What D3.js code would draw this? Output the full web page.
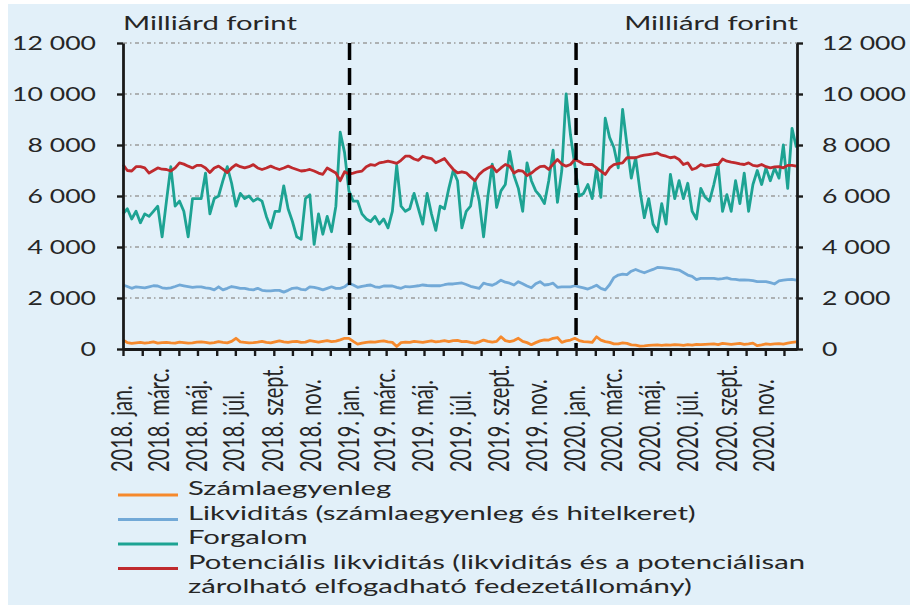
<!DOCTYPE html>
<html>
<head>
<meta charset="utf-8">
<script src="https://cdn.jsdelivr.net/npm/d3@7"></script>
<style>
  html, body { margin: 0; padding: 0; background: #fff; }
  svg text { font-family: Lato, "Noto Sans", sans-serif; fill: #262626; }
</style>
</head>
<body>
<div id="chart"></div>
<script>
// weekly readings, first point 2018-01-01
const startDate = new Date(2018, 0, 1);

const szamlaegyenleg = [
  360, 250, 220, 240, 260, 230, 250, 280, 230, 250, 260, 240, 230, 270, 250, 230, 240, 270, 280, 260,
  230, 250, 290, 260, 240, 300, 420, 280, 260, 240, 250, 270, 300, 260, 240, 280, 320, 280, 260, 290,
  300, 260, 270, 330, 300, 270, 300, 330, 290, 310, 360, 420,
  420, 300, 190, 230, 260, 280, 270, 300, 320, 280, 260, 100, 250, 270, 260, 300, 280, 260, 290, 320,
  280, 300, 330, 290, 330, 340, 290, 300, 260, 230, 280, 350, 300, 270, 300, 480, 330, 290, 330, 420,
  300, 250, 170, 250, 320, 360, 350, 420, 450, 260, 320, 350,
  420, 330, 290, 280, 260, 480, 350, 290, 260, 200, 200, 240, 220, 160, 150, 110, 120, 140, 150, 160,
  140, 160, 150, 170, 160, 140, 170, 150, 180, 170, 180, 190, 200, 170, 220, 200, 180, 200, 220, 180,
  200, 230, 130, 160, 200, 180, 200, 210, 190, 230, 260, 280
];

const likviditas = [
  2510, 2450, 2380, 2440, 2420, 2400, 2440, 2480, 2470, 2400, 2380, 2400, 2450, 2510, 2480, 2450, 2420, 2440, 2440, 2400,
  2380, 2320, 2440, 2320, 2380, 2450, 2420, 2380, 2380, 2340, 2320, 2380, 2300, 2280, 2280, 2300, 2300, 2230, 2300, 2380,
  2400, 2340, 2320, 2440, 2420, 2380, 2320, 2380, 2440, 2380, 2380, 2440,
  2575, 2510, 2420, 2460, 2490, 2510, 2440, 2420, 2470, 2470, 2470, 2420, 2380, 2450, 2440, 2460, 2480, 2510, 2490, 2480,
  2480, 2480, 2520, 2550, 2550, 2575, 2590, 2530, 2460, 2420, 2380, 2580, 2530, 2500, 2580, 2700, 2620, 2580, 2510, 2640,
  2560, 2470, 2400, 2560, 2640, 2510, 2530, 2580, 2420, 2440, 2440, 2440,
  2480, 2440, 2400, 2350, 2420, 2500, 2380, 2320, 2520, 2800, 2900, 2940, 2920, 3050, 3120, 3050, 2990, 3060, 3120, 3200,
  3190, 3170, 3150, 3120, 3095, 3000, 2900, 2850, 2720, 2770, 2770, 2770, 2770, 2740, 2760, 2790, 2740, 2730, 2705, 2705,
  2700, 2680, 2640, 2640, 2640, 2600, 2550, 2670, 2700, 2720, 2730, 2705
];

const forgalom = [
  5300, 5500, 5100, 5400, 4950, 5300, 5200, 5400, 5600, 4400, 5800, 7150, 5600, 5800, 5400, 4400, 5900, 5900, 5900, 6900,
  5300, 5900, 6000, 6600, 7150, 6500, 5600, 6100, 5900, 6000, 5800, 5900, 5800, 5200, 4750, 5400, 5400, 6400, 5500, 5000,
  4400, 4300, 5900, 6050, 4100, 5300, 4500, 5200, 4600, 5600, 8500, 7700,
  6200, 5800, 5800, 5300, 5100, 5000, 5200, 4900, 5100, 4750, 5400, 7200, 5600, 5400, 5500, 6100, 5500, 4900, 6100, 5300,
  4650, 5600, 5500, 6300, 7000, 6600, 4750, 5400, 5600, 6600, 5800, 4400, 6000, 7250, 5550, 6200, 6450, 7750, 6800, 6300,
  5400, 7300, 6600, 6200, 6000, 5700, 6600, 7800, 5750, 7000, 10000, 8400,
  7200, 6000, 6100, 6450, 5900, 7100, 5950, 9050, 8300, 7900, 7100, 9400, 8000, 6700, 7500, 6200, 5150, 5900, 4900, 4600,
  5700, 4900, 6850, 5900, 6600, 5900, 6500, 5400, 5100, 6300, 5950, 5800, 6450, 7200, 5400, 6050, 5400, 6600, 5700, 6900,
  5400, 6450, 7000, 6450, 7100, 6600, 7100, 6700, 8000, 6300, 8650, 7900
];

const potencialis = [
  7230, 7000, 6980, 7150, 7150, 7100, 6900, 7000, 7100, 7050, 7040, 6980, 7100, 7300, 7250, 7170, 7100, 7200, 7200, 7100,
  6920, 7100, 7170, 7050, 6920, 7100, 7230, 7150, 7100, 7150, 7230, 7100, 7040, 7100, 7170, 7100, 7040, 7100, 7170, 7100,
  7040, 6980, 7000, 7040, 6980, 6900, 6850, 7100, 7000, 6900, 6600, 6950,
  6860, 6900, 6950, 6975, 7150, 7230, 7200, 7300, 7330, 7365, 7330, 7280, 7400, 7560, 7560, 7450, 7400, 7560, 7500, 7470,
  7300, 7380, 7470, 7250, 7050, 6910, 6950, 6910, 6750, 6600, 6850, 7000, 7100, 7170, 6950, 7100, 7235, 7170, 6900, 7000,
  6975, 6800, 6900, 7040, 7150, 7170, 7040, 7250, 7430, 7250, 7170, 7235,
  7430, 7350, 7250, 7235, 7235, 7100, 6975, 6845, 7100, 7235, 7270, 7300, 7500, 7500, 7500, 7560, 7600, 7625, 7650, 7690,
  7600, 7560, 7500, 7530, 7430, 7235, 7300, 7040, 7100, 7235, 7170, 7200, 7235, 7235, 7450, 7365, 7330, 7300, 7260, 7235,
  7300, 7200, 7170, 7235, 7150, 7105, 7140, 7150, 7105, 7200, 7200, 7170
];

const seriesNames = [
  'Számlaegyenleg',
  'Likviditás (számlaegyenleg és hitelkeret)',
  'Forgalom',
  'Potenciális likviditás (likviditás és a potenciálisan|zárolható elfogadható fedezetállomány)'
];
const yTicks = [0, 2000, 4000, 6000, 8000, 10000, 12000];
const monthLabels = ['jan.', 'febr.', 'márc.', 'ápr.', 'máj.', 'jún.', 'júl.', 'aug.', 'szept.', 'okt.', 'nov.', 'dec.'];
const yearMarks = [new Date(2019, 0, 1), new Date(2020, 0, 1)];
const unitLabel = 'Milliárd forint';

const W = 910, H = 605;
const FS = 20;
const colors = ['#f6892c', '#72a9d7', '#1da393', '#bf2a2e'];
const plot = { left: 123, right: 797, top: 43, bottom: 349 };

const svg = d3.select('#chart').append('svg').attr('width', W).attr('height', H);

svg.append('rect').attr('x', 8).attr('y', 4).attr('width', W - 8).attr('height', H - 4).attr('fill', '#e2f0f9');

const fmt = d => d >= 1000 ? `${Math.floor(d / 1000)} ${String(d % 1000).padStart(3, '0')}` : `${d}`;

// the reference text is stretched wide: size the stretch from the unit label
// (about 174px wide) and, for the numbers, from "12 000" (about 84px wide)
const probe = svg.append('text').attr('font-size', FS).text(unitLabel);
const SX = 174 / probe.node().getComputedTextLength();
probe.text(fmt(12000));
const SXN = 84 / probe.node().getComputedTextLength();
probe.remove();

const x = d3.scaleTime()
  .domain([startDate, new Date(2020, 11, 22)])
  .range([plot.left, plot.right]);
const y = d3.scaleLinear().domain([0, 12000]).range([plot.bottom, plot.top]);

// grid
svg.append('g')
  .selectAll('line')
  .data(yTicks.slice(1))
  .join('line')
  .attr('x1', plot.left).attr('x2', plot.right)
  .attr('y1', d => y(d)).attr('y2', d => y(d))
  .attr('stroke', '#9c9c9c')
  .attr('stroke-width', 1.3)
  .attr('stroke-dasharray', '4,3,1.5,3.5');

// series
const dates = forgalom.map((_, i) => d3.timeDay.offset(startDate, i * 7));
const line = d3.line().x((d, i) => x(dates[i])).y(d => y(d));
const allSeries = [szamlaegyenleg, likviditas, forgalom, potencialis];

svg.append('g')
  .selectAll('path')
  .data(allSeries)
  .join('path')
  .attr('d', d => line(d))
  .attr('fill', 'none')
  .attr('stroke', (d, i) => colors[i])
  .attr('stroke-width', 2.8)
  .attr('stroke-linejoin', 'round');

// year separators
svg.append('g')
  .selectAll('line')
  .data(yearMarks)
  .join('line')
  .attr('x1', d => x(d)).attr('x2', d => x(d))
  .attr('y1', plot.top).attr('y2', plot.bottom)
  .attr('stroke', '#000')
  .attr('stroke-width', 3.5)
  .attr('stroke-dasharray', '17,8');

// axes
const styleAxis = g => {
  g.select('.domain').attr('stroke', '#1a1a1a').attr('stroke-width', 2.8);
  g.selectAll('.tick line').attr('stroke', '#1a1a1a').attr('stroke-width', 2.4);
  g.selectAll('.tick text')
    .attr('font-size', FS)
    .attr('fill', '#262626')
    .attr('font-family', 'Lato, sans-serif');
};

const yLeft = svg.append('g')
  .attr('transform', `translate(${plot.left},0)`)
  .call(d3.axisLeft(y).tickValues(yTicks).tickSize(6).tickSizeOuter(0).tickFormat(fmt))
  .call(styleAxis);
yLeft.selectAll('.tick text')
  .attr('x', -27 / SXN)
  .attr('dy', '0.34em')
  .attr('transform', `scale(${SXN},1)`);

const yRight = svg.append('g')
  .attr('transform', `translate(${plot.right},0)`)
  .call(d3.axisRight(y).tickValues(yTicks).tickSize(6).tickSizeOuter(0).tickFormat(fmt))
  .call(styleAxis);
yRight.selectAll('.tick text')
  .attr('x', 25 / SXN)
  .attr('dy', '0.34em')
  .attr('transform', `scale(${SXN},1)`);

const xAxis = svg.append('g')
  .attr('transform', `translate(0,${plot.bottom})`)
  .call(d3.axisBottom(x)
    .ticks(d3.timeMonth.every(1))
    .tickSize(7)
    .tickSizeOuter(0)
    .tickFormat(d => d.getMonth() % 2 === 0 ? `${d.getFullYear()}. ${monthLabels[d.getMonth()]}` : ''))
  .call(styleAxis);
xAxis.selectAll('.tick text')
  .attr('x', 0)
  .attr('y', 0)
  .attr('dy', '0.36em')
  .attr('text-anchor', 'start')
  .attr('transform', `translate(-2,${472 - plot.bottom}) scale(${SX},1) rotate(-90)`);

// unit labels
svg.append('text')
  .attr('transform', `translate(${plot.left},30) scale(${SX},1)`)
  .attr('font-size', FS)
  .text(unitLabel);
svg.append('text')
  .attr('transform', `translate(${plot.right + 1},30) scale(${SX},1)`)
  .attr('text-anchor', 'end')
  .attr('font-size', FS)
  .text(unitLabel);

// legend
const legend = svg.append('g');
const rowY = [495, 519.5, 544, 568.5];
const items = legend.selectAll('g')
  .data(seriesNames)
  .join('g')
  .attr('transform', (d, i) => `translate(118,${rowY[i]})`);
items.append('line')
  .attr('x1', 0).attr('x2', 60)
  .attr('stroke', (d, i) => colors[i])
  .attr('stroke-width', 3);
items.append('text')
  .attr('transform', `translate(70,0) scale(${SX},1)`)
  .attr('font-size', FS)
  .attr('dy', '0.34em')
  .selectAll('tspan')
  .data(d => d.split('|'))
  .join('tspan')
  .attr('x', 0)
  .attr('dy', (d, i) => i === 0 ? 0 : 24.5)
  .text(d => d);
</script>
</body>
</html>
